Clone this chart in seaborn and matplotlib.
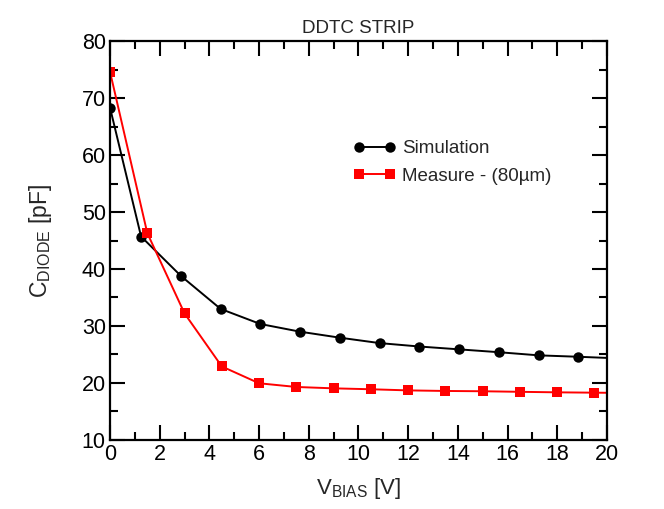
import numpy as np
import pandas as pd
import matplotlib
matplotlib.use("Agg")
import matplotlib.pyplot as plt
import seaborn as sns
from matplotlib.lines import Line2D
from matplotlib.ticker import MultipleLocator

# Werte (Marker-Punkte)
sim_v = [0.0, 1.25, 2.85, 4.45, 6.05, 7.65, 9.25, 10.85, 12.45, 14.05, 15.65, 17.25, 18.85]
sim_c = [68.3, 45.7, 38.8, 33.0, 30.35, 29.0, 27.95, 27.0, 26.4, 25.9, 25.4, 24.85, 24.6]

meas_v = [0.0, 1.5, 3.0, 4.5, 6.0, 7.5, 9.0, 10.5, 12.0, 13.5, 15.0, 16.5, 18.0, 19.5]
meas_c = [74.6, 46.3, 32.2, 22.9, 19.95, 19.3, 19.06, 18.9, 18.7, 18.6, 18.55, 18.45, 18.36, 18.3]

sim_end_v = [18.85, 20.0]
sim_end_c = [24.6, 24.4]
meas_end_v = [19.5, 20.0]
meas_end_c = [18.3, 18.28]

sns.set_style("ticks")
plt.rcParams['font.family'] = ['Liberation Sans', 'DejaVu Sans']
plt.rcParams['mathtext.fontset'] = 'custom'
plt.rcParams['mathtext.rm'] = 'Liberation Sans'
plt.rcParams['mathtext.it'] = 'Liberation Sans'

df_sim = pd.DataFrame({"v": sim_v, "c": sim_c})
df_meas = pd.DataFrame({"v": meas_v, "c": meas_c})
df_sim_end = pd.DataFrame({"v": sim_end_v, "c": sim_end_c})
df_meas_end = pd.DataFrame({"v": meas_end_v, "c": meas_end_c})

fig = plt.figure(figsize=(6.64, 5.09), dpi=100)
ax = fig.add_axes([0.1657, 0.1356, 0.7483, 0.7838])

sns.lineplot(data=df_sim, x="v", y="c", ax=ax, color="black", marker="o",
             markersize=7.5, markeredgewidth=0, linewidth=1.4)
sns.lineplot(data=df_sim_end, x="v", y="c", ax=ax, color="black", linewidth=1.4)
sns.lineplot(data=df_meas, x="v", y="c", ax=ax, color="#ff0000", marker="s",
             markersize=6.5, markeredgewidth=0, linewidth=1.4)
sns.lineplot(data=df_meas_end, x="v", y="c", ax=ax, color="#ff0000", linewidth=1.4)

ax.set_xlim(0, 20)
ax.set_ylim(10, 80)
ax.xaxis.set_major_locator(MultipleLocator(2))
ax.xaxis.set_minor_locator(MultipleLocator(1))
ax.yaxis.set_major_locator(MultipleLocator(10))
ax.yaxis.set_minor_locator(MultipleLocator(5))
ax.tick_params(which="both", direction="in", top=True, right=True, width=1.5,
               labelsize=15.5, colors="black")
ax.tick_params(which="major", length=11, pad=3)
ax.tick_params(which="minor", length=5.5)
for sp in ax.spines.values():
    sp.set_linewidth(1.6)
    sp.set_color("black")

ax.set_title("DDTC STRIP", fontsize=13.5, pad=6)
ax.set_xlabel(r"V$_{\mathrm{BIAS}}$ [V]", fontsize=16, labelpad=8)
ax.set_ylabel(r"C$_{\mathrm{DIODE}}$ [pF]", fontsize=16.5, labelpad=20)

handles = [
    Line2D([], [], color="black", marker="o", markersize=7.5, markeredgewidth=0, linewidth=1.4),
    Line2D([], [], color="#ff0000", marker="s", markersize=6.5, markeredgewidth=0, linewidth=1.4),
]
ax.legend(handles, ["Simulation", "Measure - (80µm)"], loc="upper left",
          bbox_to_anchor=(0.47, 0.775), frameon=False, numpoints=2,
          handlelength=2.3, handletextpad=0.3, fontsize=13.5,
          labelspacing=0.55, borderpad=0)

fig.savefig("out.png", dpi=100)
